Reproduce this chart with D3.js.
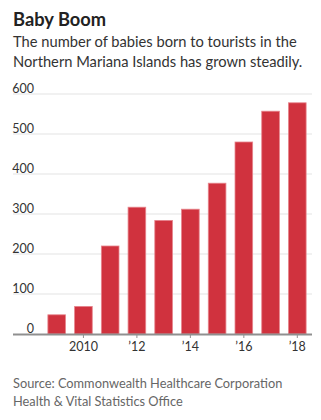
<!DOCTYPE html>
<html><head><meta charset="utf-8">
<script src="https://cdn.jsdelivr.net/npm/d3@7"></script>
<style>
html,body{margin:0;padding:0;background:#fff;}
text{font-family:Lato,"Noto Sans",sans-serif;}
</style></head>
<body>
<script>
const years = [2009,2010,2011,2012,2013,2014,2015,2016,2017,2018];
const births = [48,69,220,317,284,312,377,480,557,578];
const yTicks = [0,100,200,300,400,500,600];
const xTickYears = [2010,2012,2014,2016,2018];
const xTickLabels = ["2010","\u201912","\u201914","\u201916","\u201918"];
const title = "Baby Boom";
const subtitle = ["The number of babies born to tourists in the","Northern Mariana Islands has grown steadily."];
const source = ["Source: Commonwealth Healthcare Corporation","Health & Vital Statistics Office"];

const W=321,H=420;
const svg=d3.select("body").append("svg").attr("width",W).attr("height",H);

svg.append("text").attr("x",13).attr("y",26).attr("font-size",18.3).attr("font-weight",700).attr("fill","#222").text(title);
svg.selectAll("text.sub").data(subtitle).join("text").attr("class","sub")
  .attr("x",13).attr("y",(d,i)=>46.5+i*20).attr("font-size",14.7).attr("fill","#333").text(d=>d);

const y=d3.scaleLinear().domain([0,600]).range([334,94]);
const x=d3.scaleBand().domain(years).range([42,312]).paddingInner(0.34).paddingOuter(0.22);

// gridlines
svg.append("g").selectAll("line").data(yTicks.filter(d=>d>0)).join("line")
  .attr("x1",13).attr("x2",312).attr("y1",d=>y(d)).attr("y2",d=>y(d))
  .attr("stroke","#ececec").attr("stroke-width",1.5);

svg.append("g").selectAll("text").data(yTicks).join("text")
  .attr("x",34).attr("y",d=>y(d)-1.5).attr("text-anchor","end").attr("font-size",12.5).attr("fill","#333").text(d=>d);

svg.append("g").selectAll("rect").data(years).join("rect")
  .attr("x",d=>x(d)).attr("width",x.bandwidth())
  .attr("y",(d,i)=>y(births[i])).attr("height",(d,i)=>y(0)-y(births[i]))
  .attr("fill","#d0323e").attr("stroke","#e7848c").attr("stroke-width",0.8);

// axis line
svg.append("line").attr("x1",13).attr("x2",312).attr("y1",y(0)+0.5).attr("y2",y(0)+0.5).attr("stroke","#8f8f8f").attr("stroke-width",2);
svg.append("g").selectAll("line").data(xTickYears).join("line")
  .attr("x1",d=>x(d)+x.bandwidth()/2).attr("x2",d=>x(d)+x.bandwidth()/2)
  .attr("y1",y(0)+1).attr("y2",y(0)+4).attr("stroke","#8f8f8f").attr("stroke-width",1);
svg.append("g").selectAll("text").data(xTickYears).join("text")
  .attr("x",d=>x(d)+x.bandwidth()/2).attr("y",350.5).attr("text-anchor","middle")
  .attr("font-size",12.5).attr("fill","#333").text((d,i)=>xTickLabels[i]);

svg.selectAll("text.src").data(source).join("text").attr("class","src")
  .attr("x",13).attr("y",(d,i)=>388+i*17.5).attr("font-size",12.8).attr("fill","#666").text(d=>d);
</script>
</body></html>
